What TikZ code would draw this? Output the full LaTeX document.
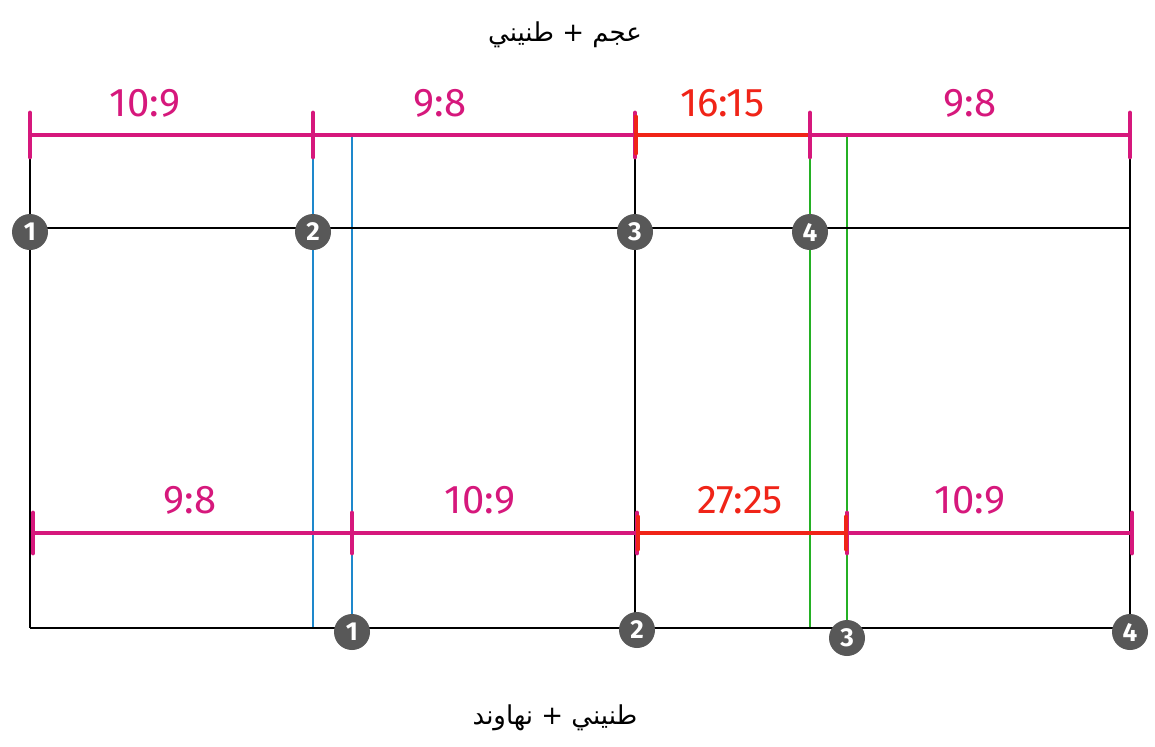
\documentclass[tikz,border=0pt]{standalone}
\usepackage{fontspec}
\setmainfont{Fira Sans}
\newfontfamily\arabicfont[Script=Arabic]{DejaVu Sans}
\TeXXeTstate=1
\usetikzlibrary{calc}
\definecolor{barpink}{RGB}{214,24,124}
\definecolor{barred}{RGB}{240,36,24}
\definecolor{lineblue}{RGB}{30,136,204}
\definecolor{linegreen}{RGB}{36,176,36}
\definecolor{dotgray}{RGB}{88,88,88}
\tikzset{
  gridline/.style={line width=1.2pt, black},
  bar/.style={line width=2pt, barpink},
  tickmark/.style={line width=2.4pt, line cap=round},
  ratio/.style={font=\fontsize{20}{20}\selectfont, text=barpink, inner sep=0pt},
  marker/.style={circle, fill=dotgray, text=white, font=\bfseries\fontsize{13}{13}\selectfont, minimum size=18pt, inner sep=0pt},
  title/.style={font=\arabicfont\fontsize{13}{13}\selectfont, inner sep=0pt},
}

\begin{document}
\begin{tikzpicture}[x=0.5pt, y=-0.5pt]
    \useasboundingbox (0,0) rectangle (1155,746);

    % Titles
    \node[title] (upper) at (565,35) {\arabicfont\beginR عجم + طنيني\endR};
    \node[title] (lower) at (555,718) {\arabicfont\beginR طنيني + نهاوند\endR};

    % Ticks of the ratio bars
    \foreach \n/\x in {1/30, 2/313, 3/635, 4/810, 5/1130}
        \coordinate (t\n) at (\x,135);
    \foreach \n/\x in {1/33, 2/352, 3/637, 4/847, 5/1132}
        \coordinate (b\n) at (\x,533);

    % Ends of the grid lines
    \coordinate (ul) at (30,228);  \coordinate (ur) at (1130,228);
    \coordinate (ll) at (30,628);  \coordinate (lr) at (1130,628);
    \foreach \n/\x in {1/30, 2/313, 3/352, 4/635, 5/810, 6/847, 7/1130} {
        \coordinate (top\n) at (\x,135);
        \coordinate (bot\n) at (\x,628);
    }

    % Vertical lines
    \draw[gridline] (top1) -- (bot1);
    \draw[gridline] (top4) -- (bot4);
    \draw[gridline] (top7) -- (bot7);
    \draw[line width=1.1pt, lineblue] (top2) -- (bot2);
    \draw[line width=1.1pt, lineblue] (top3) -- (bot3);
    \draw[line width=1.1pt, linegreen] (top5) -- (bot5);
    \draw[line width=1.1pt, linegreen] (top6) -- (bot6);

    % Horizontal lines
    \draw[gridline] (ul) -- (ur);
    \draw[gridline] (ll) -- (lr);

    % Upper ratio bar
    \draw[bar] (t1) -- (t3);
    \draw[bar, barred] (t3) -- (t4);
    \draw[bar] (t4) -- (t5);
    \foreach \n in {1,2,3,4,5}
        \draw[tickmark, barpink] ($(t\n)+(0,-22)$) -- ($(t\n)+(0,22)$);
    \draw[tickmark, barred] ($(t3)+(1,-18)$) -- ($(t3)+(1,18)$);

    % Lower ratio bar
    \draw[bar] (b1) -- (b3);
    \draw[bar, barred] (b3) -- (b4);
    \draw[bar] (b4) -- (b5);
    \foreach \n in {1,2,3,4,5}
        \draw[tickmark, barpink] ($(b\n)+(0,-20)$) -- ($(b\n)+(0,20)$);
    \draw[tickmark, barred] ($(b3)+(1,-16)$) -- ($(b3)+(1,16)$);
    \draw[tickmark, barred] ($(b4)+(-1,-16)$) -- ($(b4)+(-1,16)$);

    % Ratios
    \node[ratio] (r1) at (145,103) {10:9};
    \node[ratio] (r2) at (440,103) {9:8};
    \node[ratio, text=barred] (r3) at (722,103) {16:15};
    \node[ratio] (r4) at (970,103) {9:8};
    \node[ratio] (s1) at (190,500) {9:8};
    \node[ratio] (s2) at (480,500) {10:9};
    \node[ratio, text=barred] (s3) at (740,500) {27:25};
    \node[ratio] (s4) at (970,500) {10:9};

    % Numbered degrees
    \foreach \n/\x in {1/30, 2/313, 3/635, 4/810}
        \node[marker] (u\n) at (\x,232) {\n};
    \foreach \n/\x/\y in {1/352/632, 2/637/630, 3/847/638, 4/1130/632}
        \node[marker] (l\n) at (\x,\y) {\n};
\end{tikzpicture}
\end{document}
